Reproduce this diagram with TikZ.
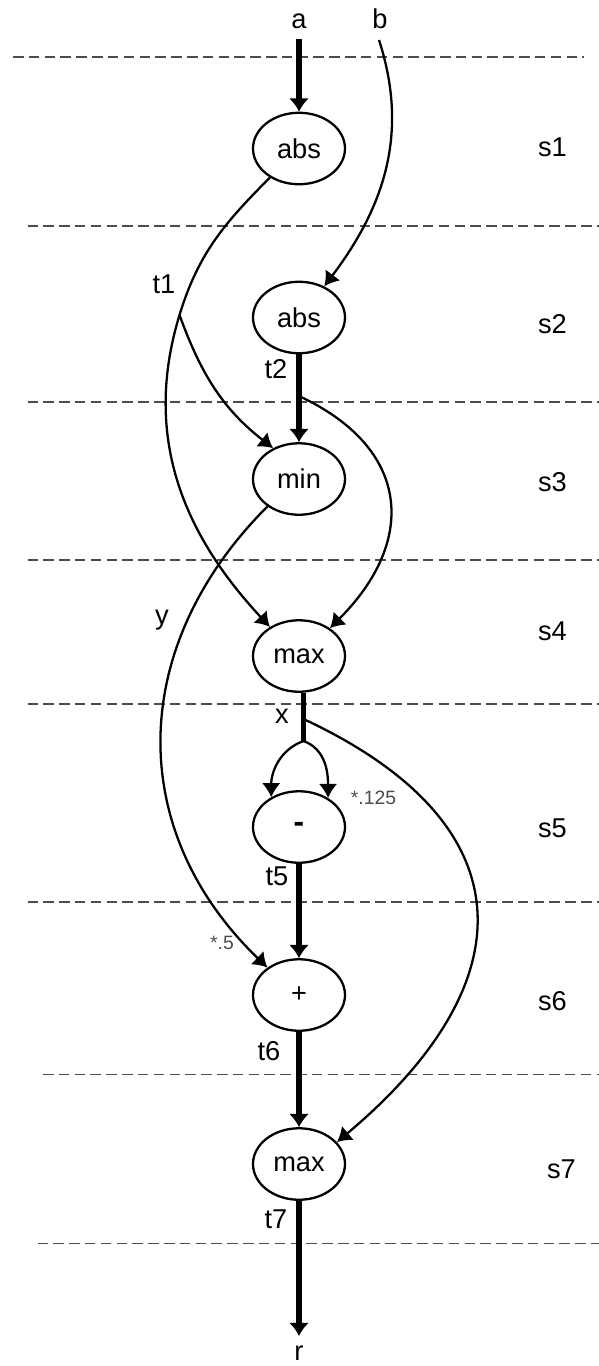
\documentclass[tikz,border=0pt]{standalone}
\usepackage{fontspec}
\setmainfont{Liberation Sans}
\usetikzlibrary{arrows.meta,shapes.geometric}

\begin{document}
\begin{tikzpicture}[
  op/.style={draw,ellipse,line width=1.3pt,minimum width=1.84cm,minimum height=1.43cm,inner sep=0pt,font=\fontsize{15.5}{18}\selectfont},
  lbl/.style={anchor=base,inner sep=0pt,font=\fontsize{15.5}{18}\selectfont},
  coef/.style={anchor=base,inner sep=0pt,text=black!70,font=\fontsize{11}{13}\selectfont},
  wire/.style={-{Latex[length=8pt,width=10.5pt]},line width=1.3pt},
  bus/.style={-{Latex[length=7.5pt,width=11.5pt]},line width=3pt},
  stage/.style={dash pattern=on 6pt off 3pt,line width=0.6pt,black!70}]

\useasboundingbox (0,0) rectangle (11.98,-27.32);

\draw[stage] (0.26,-1.14) -- (11.68,-1.14);
\draw[stage] (0.55,-4.52) -- (11.98,-4.52);
\draw[stage] (0.55,-8.04) -- (11.98,-8.04);
\draw[stage] (0.55,-11.2) -- (11.98,-11.2);
\draw[stage] (0.55,-14.08) -- (11.98,-14.08);
\draw[stage] (0.55,-18.04) -- (11.98,-18.04);
\draw[stage] (0.86,-21.49) -- (11.98,-21.49);
\draw[stage] (0.75,-24.87) -- (11.98,-24.87);

\node[op] (absA) at (5.98,-2.97) {abs};
\node[op] (absB) at (5.98,-6.35) {abs};
\node[op] (minN) at (5.98,-9.58) {min};
\node[op] (maxA) at (5.98,-13.12) {max};
\node[op] (subN) at (5.98,-16.54) {\bfseries\fontsize{18}{18}\selectfont -};
\node[op] (addN) at (5.98,-19.9) {+};
\node[op] (maxB) at (5.98,-23.28) {max};

\coordinate (aIn) at (5.98,-0.78);
\coordinate (bIn) at (7.58,-0.8);
\coordinate (t1) at (3.59,-6.3);
\coordinate (t2) at (5.98,-7.92);
\coordinate (xp) at (6.07,-14.38);
\coordinate (xs) at (6.07,-14.82);
\coordinate (rOut) at (5.98,-26.72);

\node[lbl] (la) at (5.98,-0.57) {a};
\node[lbl] (lb) at (7.6,-0.57) {b};
\node[lbl] (lr) at (5.98,-27.2) {r};
\node[lbl] (lt1) at (3.28,-5.86) {t1};
\node[lbl] (lt2) at (5.52,-7.56) {t2};
\node[lbl] (ly) at (3.24,-12.48) {y};
\node[lbl] (lx) at (5.64,-14.46) {x};
\node[coef] (c125) at (7.47,-16.08) {*.125};
\node[lbl] (lt5) at (5.54,-17.7) {t5};
\node[coef] (c5) at (4.44,-18.98) {*.5};
\node[lbl] (lt6) at (5.38,-21.2) {t6};
\node[lbl] (lt7) at (5.52,-24.56) {t7};

\node[lbl] (s1) at (11.05,-3.13) {s1};
\node[lbl] (s2) at (11.05,-6.66) {s2};
\node[lbl] (s3) at (11.05,-9.83) {s3};
\node[lbl] (s4) at (11.05,-12.8) {s4};
\node[lbl] (s5) at (11.05,-16.75) {s5};
\node[lbl] (s6) at (11.05,-20.2) {s6};
\node[lbl] (s7) at (11.23,-23.57) {s7};

\draw[bus] (aIn) -- (absA);
\draw[wire] (bIn) to[out=-72,in=53] (absB.51);
\draw[line width=1.3pt] (absA) to[out=225,in=73] (t1);
\draw[wire] (t1) to[out=253,in=133] (maxA.135);
\draw[wire] (t1) to[out=-70,in=142] (minN.130);
\draw[bus] (absB) -- (minN);
\draw[wire] (t2) to[out=-25,in=45,looseness=1.35] (maxA.42);
\draw[wire] (minN.221) to[out=225,in=136,looseness=1.1] (addN.139);
\draw[line width=3pt] (maxA.south -| xs) -- (xs);
\draw[wire] (xs) to[out=200,in=90] (subN.133);
\draw[wire] (xs) to[out=-20,in=90] (subN.45);
\draw[wire] (xp) to[out=-25,in=40,looseness=1.5] (maxB.30);
\draw[bus] (subN) -- (addN);
\draw[bus] (addN) -- (maxB);
\draw[bus] (maxB) -- (rOut);
\end{tikzpicture}
\end{document}
